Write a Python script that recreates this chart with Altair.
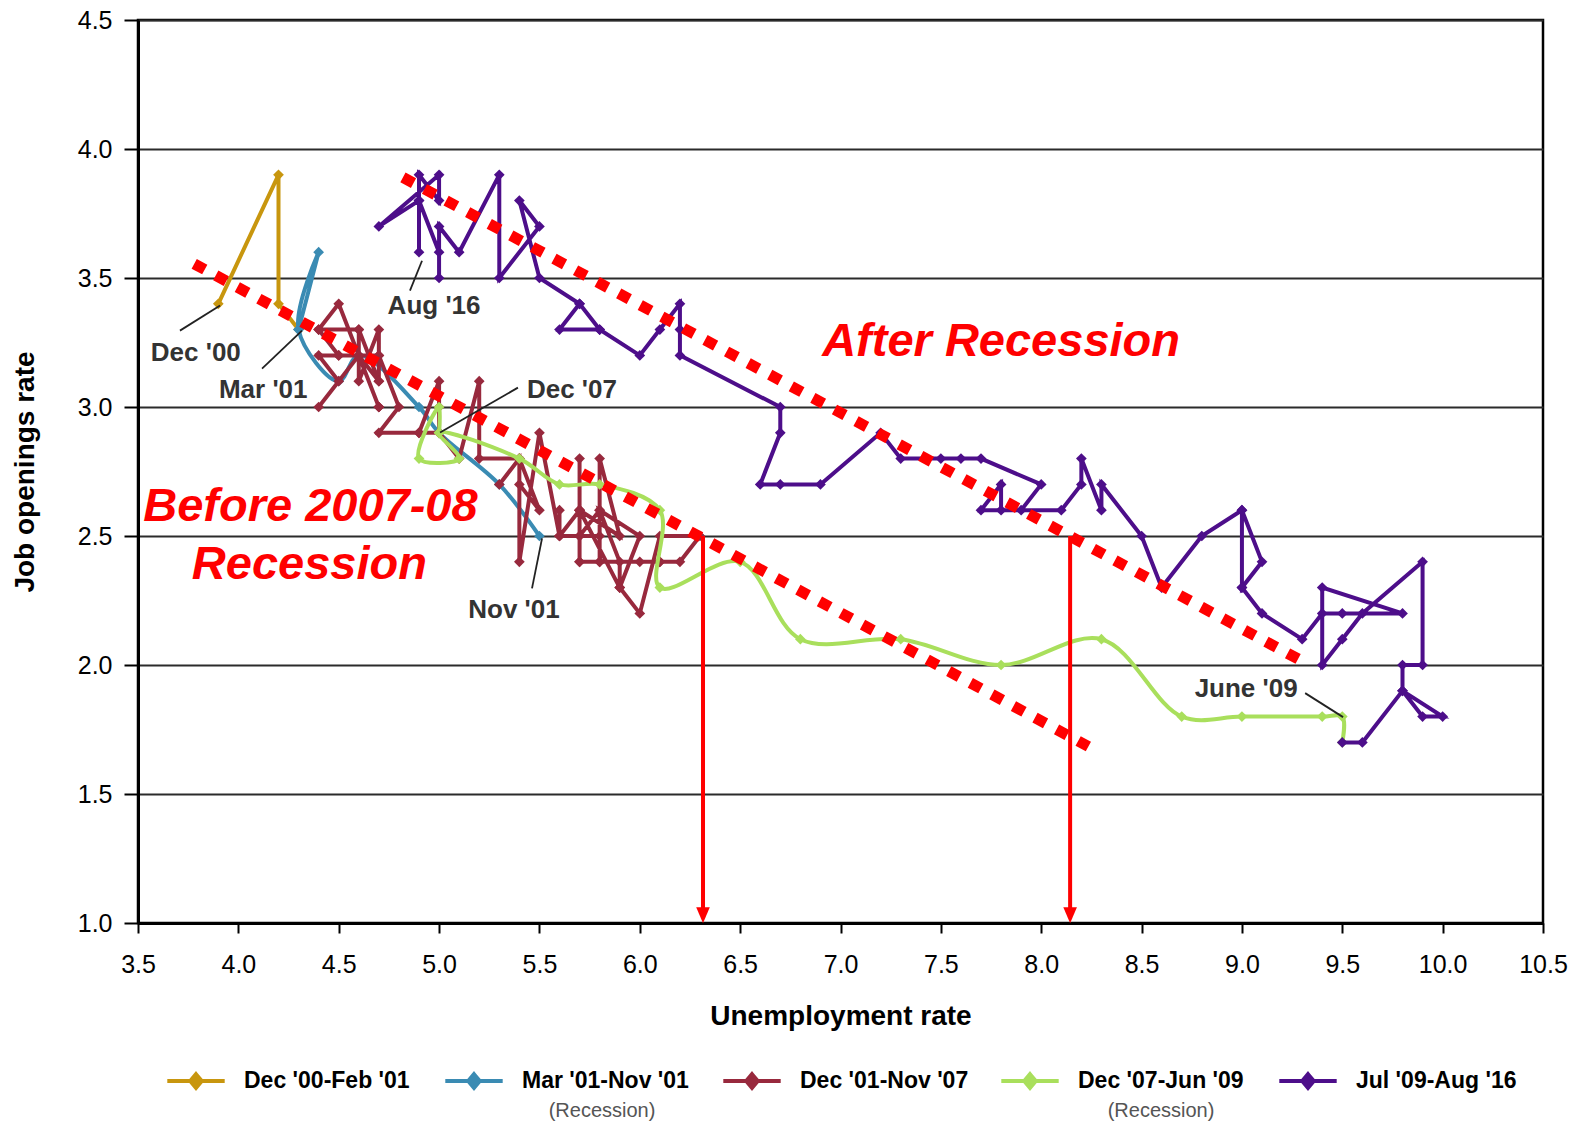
import altair as alt
import pandas as pd

# ---------------- data ----------------
series_names = ["Dec '00-Feb '01", "Mar '01-Nov '01", "Dec '01-Nov '07",
                "Dec '07-Jun '09", "Jul '09-Aug '16"]
series_colors = ["#C8960E", "#3A8BB3", "#98293D", "#A9DF5C", "#4D0E8A"]

gold_u = [3.9, 4.2, 4.2, 4.3]
gold_v = [3.4, 3.9, 3.4, 3.3]

blue_u = [4.3, 4.4, 4.3, 4.5, 4.6, 4.9, 5.0, 5.3, 5.5]
blue_v = [3.3, 3.6, 3.3, 3.1, 3.2, 3.0, 2.9, 2.7, 2.5]

red_u = [5.7, 5.7, 5.7, 5.7, 5.9, 5.8, 5.8, 5.8, 5.7, 5.7, 5.7, 5.9, 6.0,
         5.8, 5.9, 5.9, 6.0, 6.1, 6.3, 6.2, 6.1, 6.1, 6.0, 5.8, 5.7,
         5.7, 5.6, 5.8, 5.6, 5.6, 5.6, 5.5, 5.4, 5.4, 5.5, 5.4, 5.4,
         5.3, 5.4, 5.2, 5.2, 5.1, 5.0, 5.0, 4.9, 5.0, 5.0, 5.0, 4.9,
         4.7, 4.8, 4.7, 4.7, 4.6, 4.6, 4.7, 4.7, 4.5, 4.4, 4.5, 4.4,
         4.6, 4.5, 4.4, 4.5, 4.4, 4.6, 4.7, 4.6, 4.7, 4.7, 4.7]
red_v = [2.6, 2.8, 2.4, 2.6, 2.5, 2.8, 2.4, 2.6, 2.5, 2.5, 2.6, 2.3, 2.5,
         2.6, 2.4, 2.3, 2.2, 2.5, 2.5, 2.4, 2.4, 2.4, 2.4, 2.4, 2.4,
         2.6, 2.5, 2.5, 2.5, 2.6, 2.5, 2.9, 2.4, 2.8, 2.6, 2.7, 2.8,
         2.7, 2.8, 2.8, 3.1, 2.8, 2.9, 3.1, 2.9, 2.9, 3.0, 2.9, 2.9,
         2.9, 3.0, 3.2, 3.3, 3.1, 3.3, 3.1, 3.2, 3.2, 3.2, 3.1, 3.0,
         3.2, 3.4, 3.3, 3.2, 3.3, 3.3, 3.1, 3.2, 3.0, 3.0, 3.0]

green_u = [5.0, 5.0, 4.9, 5.1, 5.0, 5.4, 5.6, 5.8, 6.1, 6.1, 6.5, 6.8, 7.3,
           7.8, 8.3, 8.7, 9.0, 9.4, 9.5, 9.5]
green_v = [2.9, 3.0, 2.8, 2.8, 2.9, 2.8, 2.7, 2.7, 2.6, 2.3, 2.4, 2.1, 2.1,
           2.0, 2.1, 1.8, 1.8, 1.8, 1.8, 1.7]

purple_u = [9.5, 9.6, 9.8, 10.0, 9.9, 9.8, 9.8, 9.9, 9.9, 9.6, 9.5, 9.4, 9.4,
            9.8, 9.5, 9.4, 9.3, 9.1, 9.0, 9.0, 9.1, 9.0, 9.0, 8.8, 8.6, 8.5,
            8.3, 8.3, 8.2, 8.2, 8.1, 7.8, 7.8, 7.7, 7.9, 8.0, 7.7, 7.6, 7.5,
            7.3, 7.2, 6.9, 6.7, 6.6, 6.7, 6.7, 6.2, 6.2, 6.2, 6.1, 6.0, 5.8,
            5.6, 5.7, 5.8, 5.7, 5.5, 5.4, 5.5, 5.3, 5.3, 5.1, 5.0, 5.0, 5.0,
            4.9, 4.9, 5.0, 5.0, 4.7, 4.9, 4.9]
purple_v = [1.7, 1.7, 1.9, 1.8, 1.8, 1.9, 2.0, 2.0, 2.4, 2.2, 2.1, 2.0, 2.3,
            2.2, 2.2, 2.2, 2.1, 2.2, 2.3, 2.6, 2.4, 2.3, 2.6, 2.5, 2.3, 2.5,
            2.7, 2.6, 2.8, 2.7, 2.6, 2.6, 2.7, 2.6, 2.6, 2.7, 2.8, 2.8, 2.8,
            2.8, 2.9, 2.7, 2.7, 2.7, 2.9, 3.0, 3.2, 3.3, 3.4, 3.3, 3.2, 3.3,
            3.3, 3.4, 3.3, 3.4, 3.5, 3.8, 3.7, 3.5, 3.9, 3.6, 3.7, 3.5, 3.6,
            3.8, 3.9, 3.8, 3.9, 3.7, 3.8, 3.6]

# trend (dotted) lines
trend_u1 = [3.78, 4.82]
trend_v1 = [3.555, 3.89]
trend_u2 = [8.235, 9.30]
trend_v2 = [1.684, 2.015]

# arrows
arrow_u = [6.315, 8.144]
arrow_top = [2.5, 2.5]
arrow_bottom = [1.03, 1.03]

# annotation labels
label_text = ["Dec '00", "Mar '01", "Aug '16", "Dec '07", "Nov '01", "June '09"]
label_u = [3.788, 4.124, 4.975, 5.662, 5.373, 9.021]
label_v = [3.180, 3.033, 3.362, 3.033, 2.181, 1.875]
lead_u1 = [3.709, 4.118, 4.855, 5.393, 5.463, 9.315]
lead_v1 = [3.296, 3.149, 3.451, 3.075, 2.297, 1.891]
lead_u2 = [3.909, 4.317, 4.915, 5.005, 5.513, 9.504]
lead_v2 = [3.393, 3.296, 3.567, 2.901, 2.491, 1.798]

big_text = ["After Recession", "Before 2007-08", "Recession"]
big_u = [7.80, 4.359, 4.354]
big_v = [3.199, 2.560, 2.333]

rec_text = ["(Recession)", "(Recession)"]
rec_u = [5.812, 8.597]

x_ticks = [3.5, 4.0, 4.5, 5.0, 5.5, 6.0, 6.5, 7.0, 7.5, 8.0, 8.5, 9.0, 9.5, 10.0, 10.5]
y_ticks = [1.0, 1.5, 2.0, 2.5, 3.0, 3.5, 4.0, 4.5]

FONT = "Liberation Sans"

# ---------------- encodings ----------------
xs = alt.Scale(domain=[3.5, 10.5], nice=False, zero=False)
ys = alt.Scale(domain=[1.0, 4.5], nice=False, zero=False)

xaxis = alt.Axis(values=x_ticks, format=".1f", title="Unemployment rate", grid=False,
                 tickSize=10, tickWidth=2, tickColor="black", domainColor="black",
                 domainWidth=3, labelFont=FONT, labelFontSize=25, labelColor="black",
                 labelPadding=19, titleFont=FONT, titleFontSize=28, titleFontWeight="bold",
                 titleColor="black", titlePadding=25, labelFlush=False)
yaxis = alt.Axis(values=y_ticks, format=".1f", title="Job openings rate", grid=True,
                 gridColor="#2b2b2b", gridWidth=2, tickSize=14, tickWidth=2,
                 tickColor="black", domainColor="black", domainWidth=3,
                 labelFont=FONT, labelFontSize=25, labelColor="black", labelPadding=12,
                 titleFont=FONT, titleFontSize=28, titleFontWeight="bold",
                 titleColor="black", titlePadding=38, labelFlush=False)

X = alt.X("u:Q", scale=xs, axis=xaxis)
Y = alt.Y("v:Q", scale=ys, axis=yaxis)

legend = alt.Legend(
    title=None, orient="none", legendX=27, legendY=1030, direction="horizontal",
    symbolType="M-1,0L1,0M0,-0.24L0.2,0L0,0.24L-0.2,0Z",
    symbolSize=3295, symbolStrokeWidth=4, labelFont=FONT, labelFontSize=23,
    labelFontWeight="bold", labelColor="black", labelOffset=17, columnPadding=24,
    gridAlign="all", padding=0, columns=5, labelLimit=400,
)
COLOR = alt.Color("series:N", scale=alt.Scale(domain=series_names, range=series_colors),
                  legend=legend)


def series_layer(name, u, v, interp):
    d = pd.DataFrame({"u": u, "v": v, "i": list(range(len(u))), "series": name})
    base = alt.Chart(d).encode(x=X, y=Y, color=COLOR)
    line = base.mark_line(strokeWidth=4, interpolate=interp).encode(order="i:Q")
    pts = base.mark_point(shape="diamond", filled=True, size=115, opacity=1)
    return [line, pts]


layers = []
layers += series_layer(series_names[0], gold_u, gold_v, "linear")
layers += series_layer(series_names[1], blue_u, blue_v, "catmull-rom")
layers += series_layer(series_names[2], red_u, red_v, "linear")
layers += series_layer(series_names[3], green_u, green_v, "catmull-rom")
layers += series_layer(series_names[4], purple_u, purple_v, "linear")

# dotted trend lines
trend_df = pd.DataFrame({"u": trend_u1, "v": trend_v1, "u2": trend_u2, "v2": trend_v2})
layers.append(alt.Chart(trend_df).mark_rule(color="#FF0000", strokeWidth=11,
                                            strokeDash=[12, 12.5], strokeCap="butt")
              .encode(x=X, y=Y, x2="u2:Q", y2="v2:Q"))

# arrows
arrow_df = pd.DataFrame({"u": arrow_u, "v": arrow_top, "vb": arrow_bottom})
layers.append(alt.Chart(arrow_df).mark_rule(color="#FF0000", strokeWidth=4)
              .encode(x=X, y=Y, y2="vb:Q"))
layers.append(alt.Chart(arrow_df).mark_point(shape="M-0.85,-1L0.85,-1L0,1Z", filled=True,
                                             color="#FF0000", size=256, opacity=1)
              .encode(x=X, y=alt.Y("vb:Q", scale=ys, axis=yaxis)))

# leader lines
lead_df = pd.DataFrame({"u": lead_u1, "v": lead_v1, "u2": lead_u2, "v2": lead_v2})
layers.append(alt.Chart(lead_df).mark_rule(color="#222222", strokeWidth=1.8)
              .encode(x=X, y=Y, x2="u2:Q", y2="v2:Q"))

# labels
lab_df = pd.DataFrame({"u": label_u, "v": label_v, "t": label_text})
layers.append(alt.Chart(lab_df).mark_text(font=FONT, fontSize=26, fontWeight="bold",
                                          color="#333333", align="center",
                                          baseline="alphabetic")
              .encode(x=X, y=Y, text="t:N"))

big_df = pd.DataFrame({"u": big_u, "v": big_v, "t": big_text})
layers.append(alt.Chart(big_df).mark_text(font=FONT, fontSize=47, fontWeight="bold",
                                          fontStyle="italic", color="#FF0000",
                                          align="center", baseline="alphabetic")
              .encode(x=X, y=Y, text="t:N"))

rec_df = pd.DataFrame({"u": rec_u, "t": rec_text})
layers.append(alt.Chart(rec_df).mark_text(font=FONT, fontSize=20, color="#555555",
                                          align="center", baseline="middle")
              .encode(x=X, y=alt.value(1091), text="t:N"))

chart = alt.layer(*layers).properties(
    width=1405, height=903,
    autosize=alt.AutoSizeParams(type="none"),
    padding={"left": 130, "top": 12, "right": 27, "bottom": 198},
    background="white",
).configure_view(stroke="black", strokeWidth=2.5)

chart.save("out.html", embed_options={"renderer": "svg", "actions": False})
